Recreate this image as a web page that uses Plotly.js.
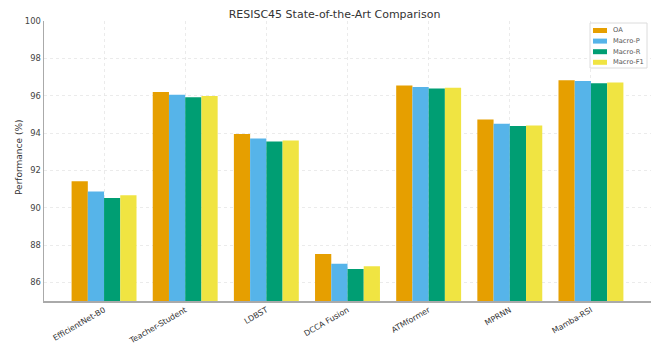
<!DOCTYPE html>
<html>
<head>
<meta charset="utf-8">
<script src="https://cdn.plot.ly/plotly-3.0.1.min.js"></script>
<style>
  html, body { margin: 0; padding: 0; background: #fff; }
  #plotArea { width: 669px; height: 347px; }
</style>
</head>
<body>
<div id="plotArea"></div>
<script>
var methods = ["EfficientNet-B0", "Teacher-Student", "LDBST", "DCCA Fusion", "ATMformer", "MPRNN", "Mamba-RSI"];

var oa      = [91.42, 96.19, 93.94, 87.52, 96.55, 94.72, 96.83];
var macroP  = [90.86, 96.05, 93.70, 87.00, 96.46, 94.49, 96.78];
var macroR  = [90.52, 95.92, 93.54, 86.71, 96.39, 94.37, 96.66];
var macroF1 = [90.67, 95.98, 93.60, 86.86, 96.42, 94.40, 96.71];

var seriesNames  = ["OA", "Macro-P", "Macro-R", "Macro-F1"];
var seriesValues = [oa, macroP, macroR, macroF1];
var seriesColors = ["#E69F00", "#56B4E9", "#009E73", "#F0E442"];

var traces = seriesNames.map(function(name, i) {
    return {
        x: methods,
        y: seriesValues[i],
        name: name,
        type: "bar",
        marker: {color: seriesColors[i], line: {width: 0}},
        hoverinfo: "x+y+name"
    };
});

// plot area in pixels (used to place the matplotlib-style legend box)
var plotL = 44, plotR = 651, plotT = 21, plotB = 301;
function px2x(px) { return (px - plotL) / (plotR - plotL); }
function px2y(py) { return (plotB - py) / (plotB - plotT); }

var shapes = [{
    type: "rect", xref: "paper", yref: "paper",
    x0: px2x(590), x1: px2x(647), y0: px2y(68), y1: px2y(23),
    fillcolor: "rgba(255,255,255,0.9)",
    line: {color: "#dcdcdc", width: 1}
}];
var annotations = [];
seriesNames.forEach(function(name, i) {
    var cy = 30.5 + i * 10.6;
    shapes.push({
        type: "rect", xref: "paper", yref: "paper",
        x0: px2x(593), x1: px2x(607), y0: px2y(cy + 2.5), y1: px2y(cy - 2.5),
        fillcolor: seriesColors[i], line: {width: 0}
    });
    annotations.push({
        xref: "paper", yref: "paper",
        x: px2x(611), y: px2y(cy),
        xanchor: "left", yanchor: "middle",
        text: name, showarrow: false,
        font: {size: 6.7, color: "#555"}
    });
});

// y axis title
annotations.push({
    xref: "paper", yref: "paper",
    x: px2x(19), y: px2y(158),
    xanchor: "center", yanchor: "middle",
    textangle: -90,
    text: "Performance (%)", showarrow: false,
    font: {size: 9, color: "#333"}
});

var fontFam = "DejaVu Sans, sans-serif";

var layout = {
    width: 669,
    height: 347,
    margin: {l: plotL, r: 669 - plotR, t: plotT, b: 347 - plotB},
    paper_bgcolor: "#fff",
    plot_bgcolor: "#fff",
    barmode: "group",
    bargap: 0.2,
    bargroupgap: 0,
    font: {family: fontFam, size: 9, color: "#444"},
    title: {
        text: "RESISC45 State-of-the-Art Comparison",
        font: {family: fontFam, size: 11, color: "#333"},
        x: 0.5, xanchor: "center", y: 0.96, yanchor: "middle"
    },
    xaxis: {
        type: "category",
        range: [-0.74, 6.74],
        tickangle: -30,
        tickfont: {size: 7.9, color: "#333"},
        automargin: false,
        showgrid: true,
        gridcolor: "#e6e6e6",
        griddash: "dot",
        gridwidth: 0.8,
        showline: true,
        linecolor: "#aaa",
        linewidth: 1.5,
        ticks: "",
        zeroline: false
    },
    yaxis: {
        range: [85, 100],
        dtick: 2,
        tick0: 86,
        automargin: false,
        tickfont: {size: 8.4, color: "#444"},
        showgrid: true,
        gridcolor: "#e6e6e6",
        griddash: "dot",
        gridwidth: 0.8,
        showline: true,
        linecolor: "#aaa",
        linewidth: 1.5,
        ticks: "",
        zeroline: false
    },
    shapes: shapes,
    annotations: annotations,
    showlegend: false
};

Plotly.newPlot("plotArea", traces, layout, {displayModeBar: false, staticPlot: true});
</script>
</body>
</html>
